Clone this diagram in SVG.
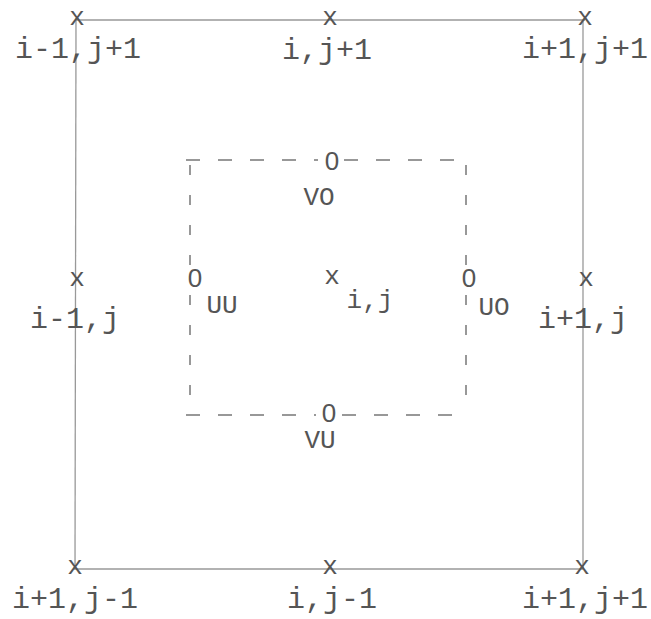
<svg xmlns="http://www.w3.org/2000/svg" width="651" height="619" viewBox="0 0 651 619">
<style>
text{font-family:"Liberation Mono","DejaVu Sans Mono",monospace;fill:#555555;font-size:30px;text-anchor:middle}
.mk{font-size:26px}
.sm{font-size:26px}
.z{font-family:"Liberation Sans",Arial,sans-serif;font-size:26px}
.outer{stroke:#999999;stroke-width:1.3;fill:none}
.inner{stroke:#777777;stroke-width:1.5;fill:none;stroke-dasharray:14 18}
.vert{stroke:#777777;stroke-width:1.5;fill:none;stroke-dasharray:10 20}
</style>
<rect width="651" height="619" fill="#ffffff"/>
<g id="connectors">
<line class="outer" x1="76" y1="20" x2="585" y2="20"/>
<line class="outer" x1="76" y1="20" x2="75" y2="569"/>
<line class="outer" x1="583" y1="20" x2="583" y2="569"/>
<line class="outer" x1="74" y1="569" x2="583" y2="569"/>
<line class="inner" x1="186" y1="160" x2="318" y2="160"/>
<line class="inner" x1="344" y1="160" x2="468" y2="160"/>
<line class="vert" x1="190" y1="165" x2="190" y2="265"/>
<line class="vert" x1="190" y1="295" x2="190" y2="415"/>
<line class="vert" x1="466" y1="165" x2="466" y2="265"/>
<line class="vert" x1="466" y1="295" x2="466" y2="415"/>
<line class="inner" x1="186" y1="415" x2="316" y2="415"/>
<line class="inner" x1="342" y1="415" x2="466" y2="415"/>
</g>
<g id="n-im1-jp1"><text class="mk" x="77" y="25">x</text><text x="78" y="58">i-1,j+1</text></g>
<g id="n-i-jp1"><text class="mk" x="330" y="25">x</text><text x="327" y="59">i,j+1</text></g>
<g id="n-ip1-jp1-top"><text class="mk" x="585" y="25">x</text><text x="585" y="58">i+1,j+1</text></g>
<g id="n-im1-j"><text class="mk" x="77" y="286">x</text><text x="75" y="328">i-1,j</text></g>
<g id="n-ip1-j"><text class="mk" x="586" y="286">x</text><text x="583" y="328">i+1,j</text></g>
<g id="n-ip1-jm1"><text class="mk" x="75" y="574">x</text><text x="75" y="608">i+1,j-1</text></g>
<g id="n-i-jm1"><text class="mk" x="330" y="574">x</text><text x="332" y="608">i,j-1</text></g>
<g id="n-ip1-jp1-bot"><text class="mk" x="582" y="574">x</text><text x="585" y="608">i+1,j+1</text></g>
<g id="n-center"><text class="mk" x="332" y="284">x</text><text class="sm" x="370" y="308">i,j</text></g>
<g id="n-vo"><text class="z" x="332" y="170">0</text><text class="sm" x="319" y="205">VO</text></g>
<g id="n-vu"><text class="z" x="329" y="422">0</text><text class="sm" x="320" y="448">VU</text></g>
<g id="n-uu"><text class="z" x="195" y="287">0</text><text class="sm" x="222" y="313">UU</text></g>
<g id="n-uo"><text class="z" x="469" y="287">0</text><text class="sm" x="494" y="315">UO</text></g>
</svg>
